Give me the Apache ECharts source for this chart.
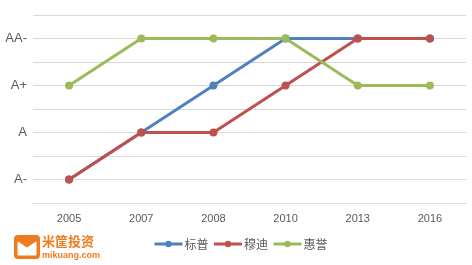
<!DOCTYPE html>
<html><head><meta charset="utf-8">
<script src="https://cdn.jsdelivr.net/npm/echarts@6/dist/echarts.min.js"></script>
<style>html,body{margin:0;padding:0;background:#fff}#c{width:472px;height:265px}</style>
</head><body><div id="c"></div>
<script>
const years = ['2005','2007','2008','2010','2013','2016'];
const ratingLabels = {1:'A-',2:'A',3:'A+',4:'AA-'};
const seriesNames = ['标普','穆迪','惠誉'];
const sp = [1,2,3,4,4,4];
const moodys = [1,2,2,3,4,4];
const fitch = [3,4,4,4,3,3];
const colors = ['#4f81bd','#c0504d','#9bbb59'];

const chart = echarts.init(document.getElementById('c'));
const mk = (name, data, color) => ({
  name, type:'line', data, symbol:'circle', symbolSize:8,
  lineStyle:{width:3,color}, itemStyle:{color}, color
});
chart.setOption({
  animation:false,
  grid:{left:33,right:6,top:15,bottom:62},
  xAxis:{type:'category',data:years,boundaryGap:true,
    axisLine:{show:true,lineStyle:{color:'#d9d9d9'}},axisTick:{show:false},
    axisLabel:{color:'#595959',fontSize:11,margin:10,fontFamily:'Liberation Sans'}},
  yAxis:{type:'value',min:0.5,max:4.5,interval:0.5,
    axisLine:{show:false},axisTick:{show:false},
    splitLine:{lineStyle:{color:'#d9d9d9',width:1}},
    axisLabel:{color:'#595959',fontSize:13,margin:6,fontFamily:'Liberation Sans',
      formatter:v=>ratingLabels[v]||''}},
  legend:{bottom:10,left:148,itemWidth:28,itemHeight:8,itemGap:4,
    itemStyle:{borderWidth:0},
    lineStyle:{width:3},
    textStyle:{color:'#595959',fontSize:12,fontFamily:'Noto Sans CJK SC',padding:[0,0,0,-3]},
    data:seriesNames},
  series:[mk(seriesNames[0],sp,colors[0]),mk(seriesNames[1],moodys,colors[1]),mk(seriesNames[2],fitch,colors[2])],
  graphic:[
    {type:'rect',shape:{x:14,y:235,width:26,height:24,r:4},style:{fill:'#f07b1e'}},
    {type:'polyline',shape:{points:[[18,242],[27,248],[36,242],[36,255],[18,255],[18,242]]},style:{fill:'#fff',stroke:'#fff'}},
    {type:'text',left:42,top:235,style:{text:'米筐投资',fill:'#f07b1e',font:'bold 13px "Noto Sans CJK SC"'}},
    {type:'text',left:42,top:251,style:{text:'mikuang.com',fill:'#f07b1e',font:'bold 9px "Liberation Sans"'}}
  ]
});
</script></body></html>
